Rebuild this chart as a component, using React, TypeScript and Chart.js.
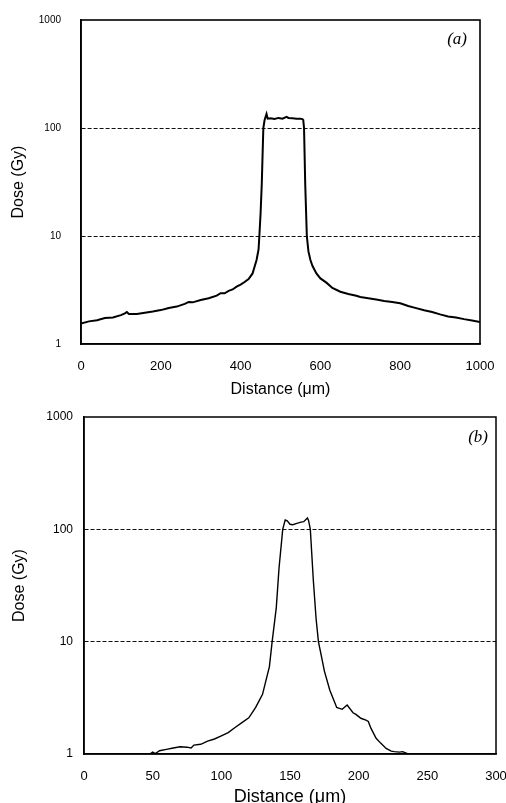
import { useEffect, useRef } from 'react';
import { Chart, registerables } from 'chart.js';

Chart.register(...registerables);

// ---------- Data (a) ----------
const distanceA = [0, 20, 40, 60, 80, 100, 110, 115, 120, 140, 160, 180, 200, 220, 240, 260, 270, 280, 300, 320, 340, 350, 360, 370, 380, 390, 400, 410, 420, 430, 440, 445, 447, 450, 453, 455, 457, 460, 463, 465, 468, 475, 485, 495, 505, 515, 520, 530, 540, 550, 555, 557, 559, 562, 566, 570, 575, 580, 590, 600, 615, 630, 650, 670, 690, 700, 720, 740, 760, 780, 800, 820, 840, 860, 880, 900, 920, 940, 960, 980, 1000];
const doseA = [1.55, 1.62, 1.66, 1.74, 1.76, 1.85, 1.92, 1.98, 1.9, 1.9, 1.95, 2.0, 2.06, 2.15, 2.22, 2.35, 2.45, 2.43, 2.55, 2.65, 2.8, 2.95, 2.95, 3.1, 3.2, 3.4, 3.55, 3.75, 4.0, 4.5, 6.0, 7.5, 10, 16, 30, 55, 100, 118, 128, 135, 122, 123, 121, 124, 122, 127, 124, 123, 122, 122, 121, 119, 100, 30, 10, 7.2, 6.0, 5.3, 4.5, 4.05, 3.7, 3.3, 3.05, 2.9, 2.8, 2.72, 2.65, 2.58, 2.5, 2.45, 2.38, 2.25, 2.15, 2.05, 1.98, 1.88, 1.8, 1.76, 1.7, 1.65, 1.6];
const xTicksA = [0, 200, 400, 600, 800, 1000];

// ---------- Data (b) ----------
const distanceB = [0, 10, 20, 30, 40, 48, 50, 52, 55, 60, 65, 70, 75, 78, 80, 85, 90, 95, 100, 105, 110, 115, 120, 125, 130, 135, 137, 140, 142, 144.7, 146.5, 148, 150, 152, 155, 158, 160, 162.7, 163.5, 164.8, 167, 169, 170.7, 173, 175, 179, 182, 184, 188, 191.6, 195.9, 198, 201.6, 205.3, 207, 209, 212.7, 216, 220, 223.7, 226, 229.6, 232, 236, 240, 250, 260, 270, 280, 290, 300];
const doseB = [1, 1, 1, 1, 1, 1, 1.04, 1.01, 1.07, 1.1, 1.13, 1.16, 1.15, 1.13, 1.2, 1.22, 1.3, 1.36, 1.45, 1.55, 1.72, 1.9, 2.1, 2.6, 3.4, 6.0, 10, 20, 45, 100, 121, 119, 111, 110, 113, 116, 117, 126, 120, 100, 35, 16, 10, 7.3, 5.5, 3.7, 3.0, 2.6, 2.5, 2.73, 2.33, 2.25, 2.08, 2.0, 1.95, 1.69, 1.38, 1.25, 1.12, 1.06, 1.05, 1.04, 1.05, 1.0, 1, 1, 1, 1, 1, 1, 1];
const xTicksB = [0, 50, 100, 150, 200, 250, 300];

const yTicks = [1, 10, 100, 1000];

type PanelProps = {
  top: number;
  height: number;
  xs: number[];
  ys: number[];
  xMax: number;
  xTickVals: number[];
  label: string;
  pad: { top: number; right: number };
  yWidth: number;
  xHeight: number;
  yTickFont: number;
  yTickPad: number;
  xTickFont: number;
  xTickPad: number;
  xTitleFont: number;
  xTitlePad: number;
  yTitleFont: number;
  yTitlePad: number;
  lineWidth: number;
  frameWidth: number;
  labelFont: number;
  labelInset: { right: number; top: number };
};

function Panel(p: PanelProps) {
  const ref = useRef<HTMLCanvasElement | null>(null);
  useEffect(() => {
    if (!ref.current) return;
    const framePlugin = {
      id: 'frame',
      afterDraw(chart: any) {
        const { ctx, chartArea } = chart;
        ctx.save();
        ctx.strokeStyle = '#000';
        ctx.lineWidth = p.frameWidth;
        ctx.strokeRect(chartArea.left, chartArea.top, chartArea.right - chartArea.left, chartArea.bottom - chartArea.top);
        ctx.fillStyle = '#000';
        ctx.font = `italic ${p.labelFont}px "Liberation Serif", "DejaVu Serif", serif`;
        ctx.textAlign = 'right';
        ctx.textBaseline = 'middle';
        ctx.fillText(p.label, chartArea.right - p.labelInset.right, chartArea.top + p.labelInset.top);
        ctx.restore();
      },
    };
    const chart = new Chart(ref.current, {
      type: 'line',
      data: {
        datasets: [
          {
            data: p.xs.map((x, i) => ({ x, y: p.ys[i] })),
            borderColor: '#000',
            borderWidth: p.lineWidth,
            pointRadius: 0,
            tension: 0,
            fill: false,
          },
        ],
      },
      options: {
        responsive: false,
        animation: false,
        layout: { padding: { top: p.pad.top, right: p.pad.right, left: 0, bottom: 0 } },
        plugins: { legend: { display: false }, tooltip: { enabled: false } },
        scales: {
          x: {
            type: 'linear',
            min: 0,
            max: p.xMax,
            afterBuildTicks: (s: any) => {
              s.ticks = p.xTickVals.map((v) => ({ value: v }));
            },
            afterFit: (s: any) => {
              s.height = p.xHeight;
              s.paddingLeft = 0;
              s.paddingRight = 0;
            },
            ticks: {
              color: '#000',
              padding: p.xTickPad,
              maxRotation: 0,
              autoSkip: false,
              callback: (v: any) => String(v),
              font: { family: '"Liberation Sans", Arial, sans-serif', size: p.xTickFont },
            },
            grid: { display: false, drawTicks: false },
            border: { display: true, color: '#000', width: p.frameWidth },
            title: {
              display: true,
              text: 'Distance (μm)',
              color: '#000',
              padding: { top: 0, bottom: p.xTitlePad },
              font: { family: '"Liberation Sans", Arial, sans-serif', size: p.xTitleFont },
            },
          },
          y: {
            type: 'logarithmic',
            min: 1,
            max: 1000,
            afterBuildTicks: (s: any) => {
              s.ticks = yTicks.map((v) => ({ value: v }));
            },
            afterFit: (s: any) => {
              s.width = p.yWidth;
              s.paddingTop = 0;
              s.paddingBottom = 0;
            },
            ticks: {
              color: '#000',
              padding: p.yTickPad,
              autoSkip: false,
              callback: (v: any) => String(v),
              font: { family: '"Liberation Sans", Arial, sans-serif', size: p.yTickFont },
            },
            grid: {
              drawTicks: false,
              lineWidth: 1,
              color: (ctx: any) =>
                ctx.tick && (ctx.tick.value === 10 || ctx.tick.value === 100) ? '#111' : 'rgba(0,0,0,0)',
            },
            border: { display: true, color: '#000', width: p.frameWidth, dash: [4, 2] },
            title: {
              display: true,
              text: 'Dose (Gy)',
              color: '#000',
              padding: { top: p.yTitlePad, bottom: 0 },
              font: { family: '"Liberation Sans", Arial, sans-serif', size: p.yTitleFont },
            },
          },
        },
      },
      plugins: [framePlugin],
    });
    return () => chart.destroy();
  }, []);
  return (
    <canvas
      ref={ref}
      width={506}
      height={p.height}
      style={{ position: 'absolute', left: 0, top: p.top, width: 506, height: p.height, display: 'block' }}
    />
  );
}

export default function App() {
  return (
    <div
      style={{
        position: 'absolute',
        left: 0,
        top: 0,
        width: 506,
        height: 803,
        overflow: 'hidden',
        background: '#fff',
      }}
    >
      <Panel
        top={0}
        height={400}
        xs={distanceA}
        ys={doseA}
        xMax={1000}
        xTickVals={xTicksA}
        label="(a)"
        pad={{ top: 20, right: 26 }}
        yWidth={81}
        xHeight={56}
        yTickFont={10}
        yTickPad={20}
        xTickFont={13}
        xTickPad={15}
        xTitleFont={16}
        xTitlePad={1}
        yTitleFont={16}
        yTitlePad={9}
        lineWidth={2}
        frameWidth={1.6}
        labelFont={17}
        labelInset={{ right: 13, top: 20 }}
      />
      <Panel
        top={400}
        height={410}
        xs={distanceB}
        ys={doseB}
        xMax={300}
        xTickVals={xTicksB}
        label="(b)"
        pad={{ top: 17, right: 10 }}
        yWidth={84}
        xHeight={56}
        yTickFont={12}
        yTickPad={11}
        xTickFont={13}
        xTickPad={15}
        xTitleFont={18}
        xTitlePad={2}
        yTitleFont={16}
        yTitlePad={10}
        lineWidth={1.4}
        frameWidth={1.5}
        labelFont={17}
        labelInset={{ right: 8, top: 21 }}
      />
    </div>
  );
}
